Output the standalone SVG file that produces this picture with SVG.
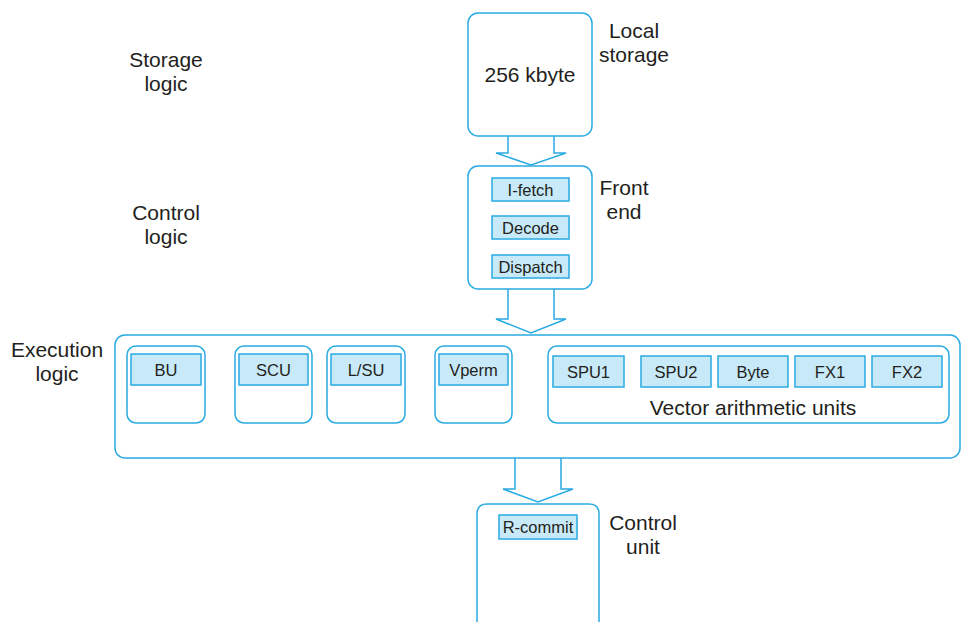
<svg xmlns="http://www.w3.org/2000/svg" width="963" height="622" viewBox="0 0 963 622">
<style>
.box{fill:#fff;stroke:#29abe2;stroke-width:1.5}
.lab{fill:#c7e9f8;stroke:#29abe2;stroke-width:1.5}
.arr{fill:#fff;stroke:#29abe2;stroke-width:1.5;stroke-linejoin:miter}
text{font-family:"Liberation Sans",Arial,sans-serif;fill:#231f20;text-anchor:middle}
.big{font-size:21px}
.sm{font-size:16.5px}
</style>
<rect width="963" height="622" fill="#fff"/>
<g id="side-labels">
<text class="big" x="166" y="67">Storage</text>
<text class="big" x="166" y="91">logic</text>
<text class="big" x="166" y="220">Control</text>
<text class="big" x="166" y="244">logic</text>
<text class="big" x="57" y="357">Execution</text>
<text class="big" x="57" y="381">logic</text>
<text class="big" x="634" y="38">Local</text>
<text class="big" x="634" y="62">storage</text>
<text class="big" x="624" y="195">Front</text>
<text class="big" x="624" y="219">end</text>
<text class="big" x="643" y="530">Control</text>
<text class="big" x="643" y="554">unit</text>
</g>
<g id="connectors">
<path class="arr" d="M508,136 V153 H496 L531,165 L566,153 H554 V136"/>
<path class="arr" d="M508,289 V319 H496 L531,333 L566,319 H554 V289"/>
<path class="arr" d="M515,458 V489 H503 L538,502 L573,489 H561 V458"/>
</g>
<g id="local-storage">
<rect class="box" x="468" y="13" width="124" height="123" rx="10"/>
<text class="big" x="530" y="82">256 kbyte</text>
</g>
<g id="front-end">
<rect class="box" x="468" y="166" width="124" height="123" rx="10"/>
<rect class="lab" x="492" y="178" width="77" height="23"/>
<text class="sm" x="530.5" y="195.5">I-fetch</text>
<rect class="lab" x="492" y="216" width="77" height="23"/>
<text class="sm" x="530.5" y="233.5">Decode</text>
<rect class="lab" x="492" y="255" width="77" height="23"/>
<text class="sm" x="530.5" y="272.5">Dispatch</text>
</g>
<g id="execution">
<rect class="box" x="115" y="335" width="845" height="123" rx="10"/>
</g>
<g id="bu">
<rect class="box" x="127" y="346" width="78" height="77" rx="9"/>
<rect class="lab" x="131" y="354" width="70" height="31"/>
<text class="sm" x="166" y="376">BU</text>
</g>
<g id="scu">
<rect class="box" x="235" y="346" width="77" height="77" rx="9"/>
<rect class="lab" x="239" y="354" width="69" height="31"/>
<text class="sm" x="273.5" y="376">SCU</text>
</g>
<g id="lsu">
<rect class="box" x="327" y="346" width="78" height="77" rx="9"/>
<rect class="lab" x="331" y="354" width="70" height="31"/>
<text class="sm" x="366" y="376">L/SU</text>
</g>
<g id="vperm">
<rect class="box" x="435" y="346" width="77" height="77" rx="9"/>
<rect class="lab" x="439" y="354" width="69" height="31"/>
<text class="sm" x="473.5" y="376">Vperm</text>
</g>
<g id="vector">
<rect class="box" x="548" y="346" width="401" height="77" rx="9"/>
<rect class="lab" x="553" y="356" width="71" height="31"/>
<text class="sm" x="588.5" y="377.5">SPU1</text>
<rect class="lab" x="641" y="356" width="70" height="31"/>
<text class="sm" x="676" y="377.5">SPU2</text>
<rect class="lab" x="718" y="356" width="70" height="31"/>
<text class="sm" x="753" y="377.5">Byte</text>
<rect class="lab" x="795" y="356" width="70" height="31"/>
<text class="sm" x="830" y="377.5">FX1</text>
<rect class="lab" x="872" y="356" width="70" height="31"/>
<text class="sm" x="907" y="377.5">FX2</text>
<text class="big" x="753" y="415">Vector arithmetic units</text>
</g>
<g id="control-unit">
<path class="box" d="M477,630 V514 Q477,504 487,504 H589 Q599,504 599,514 V630"/>
<rect class="lab" x="499" y="515" width="78" height="24"/>
<text class="sm" x="538" y="533">R-commit</text>
</g>
</svg>
